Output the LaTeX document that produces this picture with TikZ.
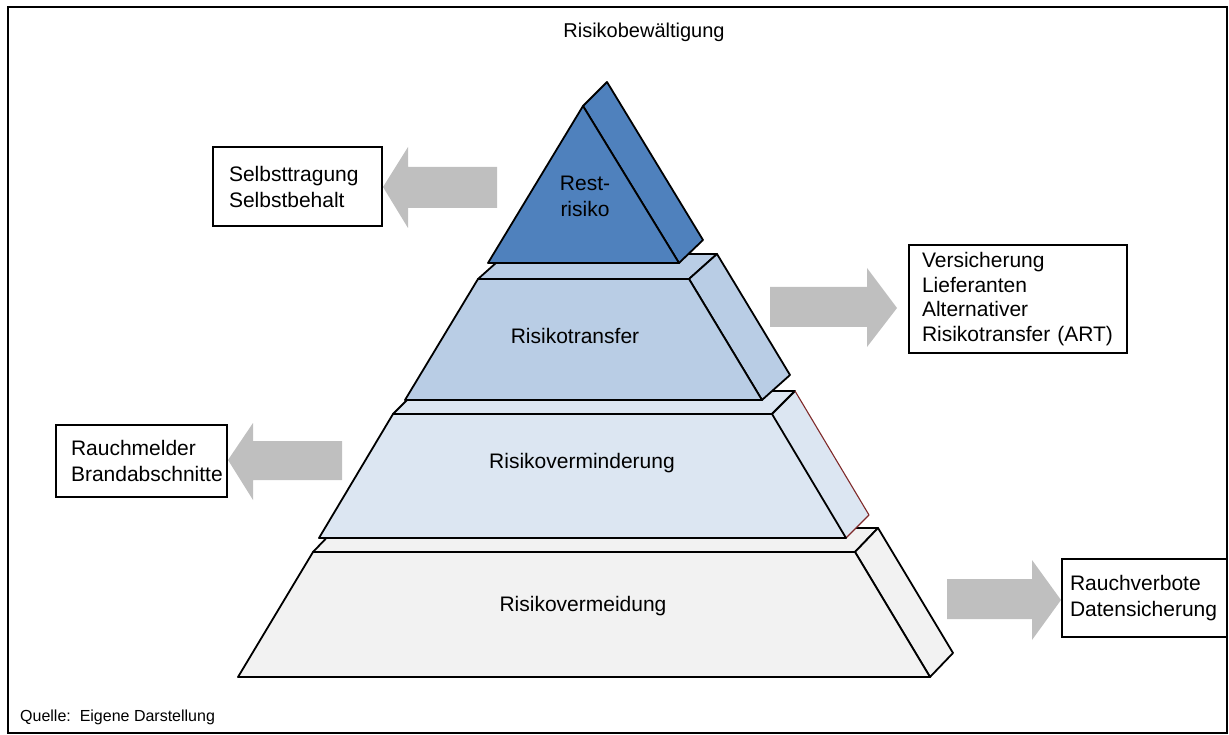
\documentclass[tikz,border=0pt]{standalone}
\usepackage{fontspec}
\setmainfont{Liberation Sans}
\definecolor{topblue}{HTML}{4F81BD}
\definecolor{tierB}{HTML}{B9CDE5}
\definecolor{tierC}{HTML}{DCE6F2}
\definecolor{tierD}{HTML}{F2F2F2}
\definecolor{arrowgray}{HTML}{BFBFBF}
\definecolor{edgered}{HTML}{7F2A2A}
\begin{document}
\begin{tikzpicture}[x=1pt,y=-1pt,
  face/.style={draw=black, line width=1.8pt, line join=round},
  rededge/.style={draw=edgered, line width=1.1pt, line join=round},
  blockarrow/.style={fill=arrowgray},
  lbl/.style={font=\fontsize{21}{26}\selectfont, align=center, inner sep=0pt},
  infobox/.style={draw=black, line width=1.4pt, fill=white, align=left,
    font=\fontsize{21}{26}\selectfont, inner ysep=0pt},
  note/.style={font=\fontsize{16}{19}\selectfont, inner sep=0pt}]
\useasboundingbox (0,0) rectangle (1229,735);
\draw[line width=1.3pt] (8,7) rectangle (1227,733);

% Tier 4: Risikovermeidung
\filldraw[face, fill=tierD] (313,552)--(336,528)--(878,528)--(855,552)--cycle;
\filldraw[face, fill=tierD] (855,552)--(878,528)--(953,653)--(930,677)--cycle;
\filldraw[face, fill=tierD] (313,552)--(855,552)--(930,677)--(238,677)--cycle;

% Tier 3: Risikoverminderung
\filldraw[face, fill=tierC] (393,414)--(416,391)--(795,391)--(772,414)--cycle;
\fill[tierC] (772,414)--(795,391)--(869,515)--(846,538)--cycle;
\draw[face] (772,414)--(795,391);
\draw[rededge] (795,391)--(869,515)--(846,538);
\filldraw[face, fill=tierC] (393,414)--(772,414)--(846,538)--(319,538)--cycle;

% Tier 2: Risikotransfer
\filldraw[face, fill=tierB] (478,279)--(506,254)--(717,254)--(689,279)--cycle;
\filldraw[face, fill=tierB] (689,279)--(717,254)--(790,375)--(762,400)--cycle;
\filldraw[face, fill=tierB] (478,279)--(689,279)--(762,400)--(405,400)--cycle;

% Tier 1: Restrisiko
\filldraw[face, fill=topblue] (583,106)--(607,82)--(703,240)--(679,263)--cycle;
\filldraw[face, fill=topblue] (583,106)--(679,263)--(488,263)--cycle;

% Labels
\node[lbl] (rest) at (585,196) {Rest-\\risiko};
\node[lbl] (transfer) at (575,336) {Risikotransfer};
\node[lbl] (vermind) at (582,463) {Risikoverminderung};
\node[lbl] (vermeid) at (583,606) {Risikovermeidung};

% Block arrows
\fill[blockarrow] (497,167)--(408,167)--(408,147)--(383,187)--(408,228)--(408,208)--(497,208)--cycle;
\fill[blockarrow] (770,287)--(867,287)--(867,268)--(897,308)--(867,347)--(867,327)--(770,327)--cycle;
\fill[blockarrow] (342,441)--(253,441)--(253,423)--(228,460)--(253,500)--(253,480)--(342,480)--cycle;
\fill[blockarrow] (947,579)--(1032,579)--(1032,560)--(1061,600)--(1032,640)--(1032,619)--(947,619)--cycle;

% Info boxes
\node[infobox, minimum width=169pt, minimum height=79pt, inner xsep=16pt, text width=137pt]
  (selbst) at (297.5,186.5) {Selbsttragung\\Selbstbehalt};
\node[infobox, minimum width=218pt, minimum height=108pt, inner xsep=13pt, text width=192pt, font=\fontsize{21}{24.5}\selectfont]
  (versich) at (1018,299) {Versicherung\\Lieferanten\\Alternativer\\\mbox{Risikotransfer (ART)}};
\node[infobox, minimum width=171pt, minimum height=72pt, inner xsep=15pt, text width=141pt]
  (rauchm) at (141.5,461) {Rauchmelder\\Brandabschnitte};
\node[infobox, minimum width=165pt, minimum height=78pt, inner xsep=8pt, text width=149pt]
  (rauchv) at (1144.5,598) {Rauchverbote\\Datensicherung};

% Title and source
\node[lbl, font=\fontsize{20}{24}\selectfont] (title) at (644,32) {Risikobewältigung};
\node[note, anchor=west] (quelle) at (20,717) {Quelle:\ \ Eigene Darstellung};
\end{tikzpicture}
\end{document}
